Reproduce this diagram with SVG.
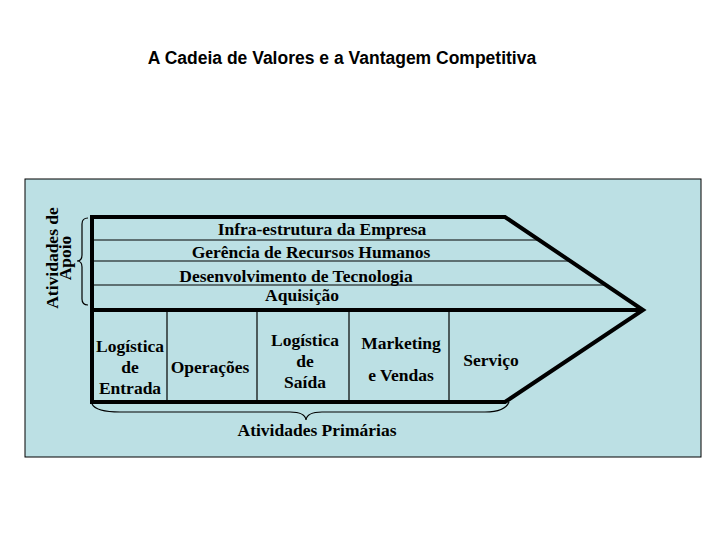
<svg xmlns="http://www.w3.org/2000/svg" width="720" height="540" viewBox="0 0 720 540">
<style>
.t{font-family:"Liberation Serif",serif;font-weight:bold;font-size:17.5px;fill:#000;text-anchor:middle}
.thin{stroke:#000;stroke-width:1.2;fill:none}
.thick{stroke:#000;stroke-width:4;fill:none;stroke-linejoin:miter}
</style>
<rect width="720" height="540" fill="#fff"/>
<text x="342" y="64" text-anchor="middle" font-family="Liberation Sans,Arial,sans-serif" font-weight="bold" font-size="17.5">A Cadeia de Valores e a Vantagem Competitiva</text>
<rect id="bg" x="25" y="179" width="676" height="278" fill="#bce0e4" stroke="#000" stroke-width="1"/>
<g id="connectors">
<line class="thin" x1="92" y1="240" x2="539" y2="240"/>
<line class="thin" x1="92" y1="261" x2="570" y2="261"/>
<line class="thin" x1="92" y1="285" x2="606" y2="285"/>
<line class="thin" x1="167" y1="310" x2="167" y2="402"/>
<line class="thin" x1="257" y1="310" x2="257" y2="402"/>
<line class="thin" x1="349" y1="310" x2="349" y2="402"/>
<line class="thin" x1="449" y1="310" x2="449" y2="402"/>
<path class="thick" d="M92 217 H505 L643 310 L505 402 H92 Z"/>
<line class="thick" x1="92" y1="310" x2="643" y2="310"/>
<path class="thin" d="M88 218 Q82 218 82 224 V255 Q82 261 77 261 Q82 261 82 267 V299 Q82 305 88 305"/>
<path class="thin" d="M92 404 Q96 412 120 412 H290 Q305 412 306 420 Q307 412 322 412 H485 Q505 412 509 402"/>
</g>
<g id="support">
<text class="t" x="322" y="235">Infra-estrutura da Empresa</text>
<text class="t" x="311" y="258">Gerência de Recursos Humanos</text>
<text class="t" x="296" y="282">Desenvolvimento de Tecnologia</text>
<text class="t" x="302" y="301">Aquisição</text>
</g>
<g id="apoio"><text class="t" transform="translate(0 258) rotate(-90)"><tspan x="0" y="58">Atividades de</tspan><tspan x="0" y="71">Apoio</tspan></text></g>
<g id="n1"><text class="t" x="130" y="352">Logística</text><text class="t" x="130" y="373">de</text><text class="t" x="130" y="394">Entrada</text></g>
<g id="n2"><text class="t" x="210" y="373">Operações</text></g>
<g id="n3"><text class="t" x="305" y="346">Logística</text><text class="t" x="305" y="367">de</text><text class="t" x="305" y="388">Saída</text></g>
<g id="n4"><text class="t" x="401" y="349">Marketing</text><text class="t" x="401" y="381">e Vendas</text></g>
<g id="n5"><text class="t" x="491" y="366">Serviço</text></g>
<g id="primarias"><text class="t" x="317" y="436">Atividades Primárias</text></g>
</svg>
